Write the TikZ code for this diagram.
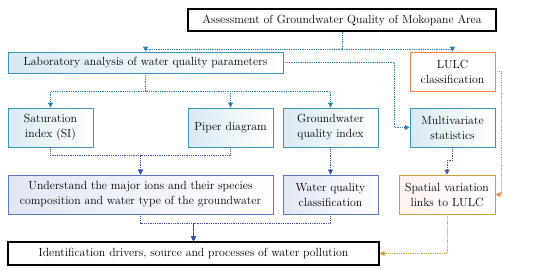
\documentclass[tikz,border=0pt]{standalone}
\usepackage{tikz}
\renewcommand{\rmdefault}{ppl}
\usetikzlibrary{calc,arrows.meta}
\definecolor{tealline}{HTML}{2B82AC}
\definecolor{tealbox}{HTML}{3D93C2}
\definecolor{navyline}{HTML}{3A4FA6}
\definecolor{navybox}{HTML}{5B78C6}
\definecolor{lulcor}{HTML}{F4874E}
\definecolor{goldline}{HTML}{C9A23B}

\begin{document}
\begin{tikzpicture}[x=1pt,y=-1pt,font=\fontsize{11.8}{15}\selectfont,
    box/.style={draw, thick, align=center, inner sep=1pt},
    mainbox/.style={box, draw=black, line width=1.1pt, fill=white},
    labbox/.style={box, draw=tealbox, left color=tealbox!20, right color=white},
    ionbox/.style={box, draw=navybox, left color=navybox!18, right color=white},
    lulcbox/.style={box, draw=lulcor, fill=white},
    spatbox/.style={box, draw=goldline, left color=red!5, right color=white},
    flow/.style={densely dotted, thick, -{Triangle[length=5pt,width=5pt]}},
    tflow/.style={flow, tealline},
    nflow/.style={flow, navyline},
    gflow/.style={flow, goldline}]
    \useasboundingbox (0,0) rectangle (550,274);

    % Top and bottom boxes
    \node[mainbox, minimum width=308pt, minimum height=22pt] (top) at (342,20) {Assessment of Groundwater Quality of Mokopane Area};
    \node[mainbox, minimum width=371pt, minimum height=23pt] (ident) at (193.5,253.5) {Identification drivers, source and processes of water pollution};

    % First level
    \node[labbox, minimum width=275pt, minimum height=21pt] (lab) at (145.5,62.5) {Laboratory analysis of water quality parameters};
    \node[lulcbox, minimum width=85pt, minimum height=39pt] (lulc) at (452.5,71.5) {LULC\\classification};

    % Second level
    \node[labbox, minimum width=85pt, minimum height=39pt] (sat) at (50.5,127.5) {Saturation\\index (SI)};
    \node[labbox, minimum width=85pt, minimum height=39pt] (piper) at (230.5,127.5) {Piper diagram};
    \node[labbox, minimum width=95pt, minimum height=39pt] (gqi) at (330.5,127.5) {Groundwater\\quality index};
    \node[labbox, minimum width=85pt, minimum height=39pt] (multi) at (452.5,127.5) {Multivariate\\statistics};

    % Third level
    \node[ionbox, minimum width=265pt, minimum height=39pt] (ions) at (140.5,194.5) {Understand the major ions and their species\\composition and water type of the groundwater};
    \node[ionbox, minimum width=95pt, minimum height=39pt] (wqc) at (330.5,194.5) {Water quality\\classification};
    \node[spatbox, minimum width=96pt, minimum height=39pt] (spat) at (447,194.5) {Spatial variation\\links to LULC};

    % Connectors
    \draw[tflow] (top.south) -- ++(0,18) -| (lab.north);
    \draw[tflow] (top.south) -- ++(0,18) -| (lulc.north);
    \draw[tflow] (lab.east) -- ++(111,0) |- (multi.west);
    \draw[tflow] (lab.south) -- ++(0,18) -| (sat.north);
    \draw[tflow] (lab.south) -- ++(0,18) -| (piper.north);
    \draw[tflow] (lab.south) -- ++(0,18) -| (gqi.north);

    \draw[nflow] (sat.south) -- ++(0,8) -| (ions.north);
    \draw[nflow] (piper.south) -- ++(0,8) -| (ions.north);
    \draw[nflow] (gqi.south) -- (wqc.north);
    \draw[nflow] (multi.south) -- ++(0,13) -| (spat.north);
    \draw[nflow] (ions.south) -- ++(0,9) -| (ident.north);
    \draw[nflow] (wqc.south) -- ++(0,9) -| (ident.north);

    \draw[gflow, lulcor] (lulc.east) -- ++(6,0) |- (spat.east);
    \draw[gflow] (spat.south) |- (ident.east);
\end{tikzpicture}
\end{document}
